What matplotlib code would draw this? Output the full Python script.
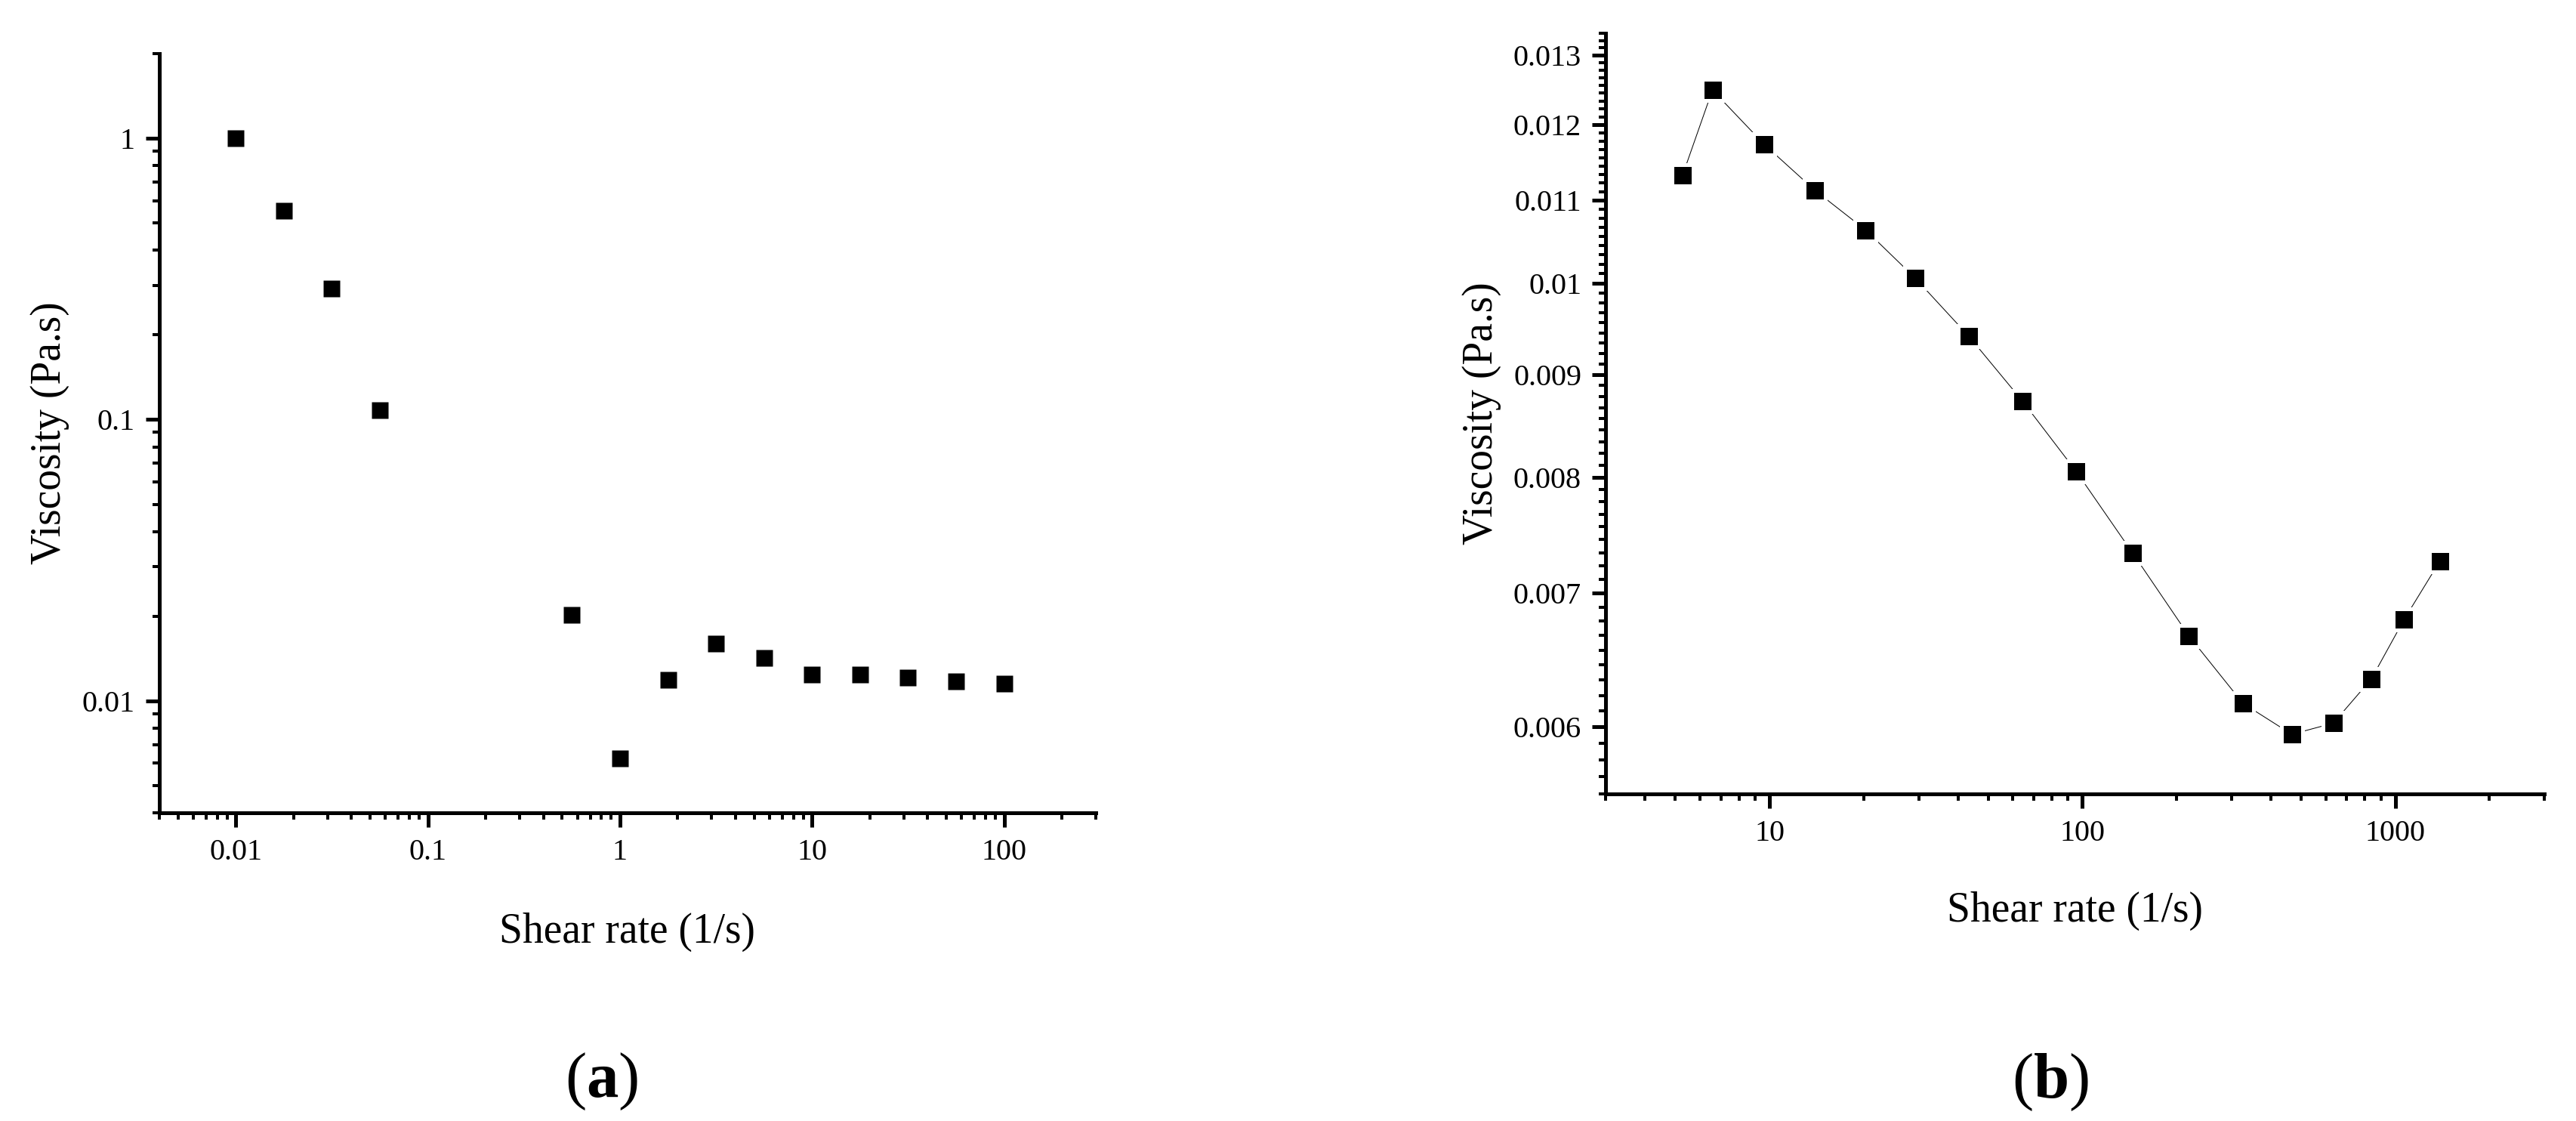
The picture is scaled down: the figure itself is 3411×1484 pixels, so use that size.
import matplotlib
matplotlib.use("Agg")
import matplotlib.pyplot as plt
from matplotlib.ticker import FixedLocator, FixedFormatter, LogLocator, MultipleLocator, NullFormatter

# ---------------- data ----------------
# panel (a)
a_shear = [0.01, 0.0178, 0.0316, 0.0562, 0.562, 1.0, 1.78, 3.16, 5.62, 10.0, 17.8, 31.6, 56.2, 100.0]
a_visc = [1.0, 0.551, 0.292, 0.108, 0.0202, 0.00626, 0.0119, 0.0160, 0.0142, 0.01237, 0.01237, 0.0121, 0.01175, 0.01155]
a_xticks = [0.01, 0.1, 1, 10, 100]
a_xticklabels = ["0.01", "0.1", "1", "10", "100"]
a_yticks = [0.01, 0.1, 1]
a_yticklabels = ["0.01", "0.1", "1"]

# panel (b)
b_shear = [5.27, 6.57, 9.63, 13.95, 20.3, 29.2, 43.3, 64.4, 95.7, 144.8, 219, 326, 467, 634, 838, 1067, 1387]
b_visc = [0.01132, 0.01249, 0.01173, 0.01113, 0.01063, 0.01006, 0.00941, 0.00873, 0.00805, 0.00733,
          0.006664, 0.006166, 0.00595, 0.006027, 0.00634, 0.00679, 0.00726]
b_xticks = [10, 100, 1000]
b_xticklabels = ["10", "100", "1000"]
b_yticks = [0.006, 0.007, 0.008, 0.009, 0.010, 0.011, 0.012, 0.013]
b_yticklabels = ["0.006", "0.007", "0.008", "0.009", "0.01", "0.011", "0.012", "0.013"]

xlabel = "Shear rate (1/s)"
ylabel = "Viscosity (Pa.s)"

# ---------------- style ----------------
plt.rcParams["font.family"] = ["Liberation Serif", "DejaVu Serif"]
plt.rcParams["mathtext.fontset"] = "custom"
plt.rcParams["mathtext.rm"] = "Liberation Serif"
plt.rcParams["mathtext.bf"] = "Liberation Serif:bold"
plt.rcParams["mathtext.it"] = "Liberation Serif:italic"

W, H = 3412, 1484
DPI = 100
PT = 72.0 / DPI  # points per pixel

fig = plt.figure(figsize=(W / DPI, H / DPI), dpi=DPI, facecolor="white")

ax_a = fig.add_axes([211 / W, 1 - 1076 / H, 1240 / W, 1005 / H])
ax_b = fig.add_axes([2126.5 / W, 1 - 1051 / H, 1242.8 / W, 1007 / H])


def style_axes(ax):
    for s in ["top", "right"]:
        ax.spines[s].set_visible(False)
    for s in ["left", "bottom"]:
        ax.spines[s].set_linewidth(5 * PT)
        ax.spines[s].set_capstyle("projecting")
    ax.tick_params(which="major", direction="out", length=18.5 * PT, width=5 * PT,
                   labelsize=29, color="black")
    ax.tick_params(axis="x", which="major", pad=11)
    ax.tick_params(axis="y", which="major", pad=10)
    ax.tick_params(which="minor", direction="out", length=9 * PT, width=4 * PT, color="black")


# ---------------- panel (a) ----------------
ax_a.plot(a_shear, a_visc, linestyle="none", marker="s", markersize=22.5 * PT,
          markerfacecolor="black", markeredgecolor="none", clip_on=False)
ax_a.set_xscale("log")
ax_a.set_yscale("log")
ax_a.set_xlim(0.004, 300)
ax_a.set_ylim(0.004, 2)
ax_a.xaxis.set_major_locator(FixedLocator(a_xticks))
ax_a.xaxis.set_major_formatter(FixedFormatter(a_xticklabels))
ax_a.yaxis.set_major_locator(FixedLocator(a_yticks))
ax_a.yaxis.set_major_formatter(FixedFormatter(a_yticklabels))
ax_a.xaxis.set_minor_locator(LogLocator(base=10, subs=tuple(range(2, 10)), numticks=50))
ax_a.yaxis.set_minor_locator(LogLocator(base=10, subs=tuple(range(2, 10)), numticks=50))
ax_a.xaxis.set_minor_formatter(NullFormatter())
ax_a.yaxis.set_minor_formatter(NullFormatter())
style_axes(ax_a)
ax_a.set_xlabel(xlabel, fontsize=40, va="center", ha="center")
ax_a.xaxis.set_label_coords(0.5, -0.1572)
ax_a.set_ylabel(ylabel, fontsize=40, va="center", ha="center")
ax_a.yaxis.set_label_coords(-0.1169, 0.5)

# ---------------- panel (b) ----------------
gap = 5.0  # px white gap between line and symbol
ax_b.plot(b_shear, b_visc, color="black", linewidth=1.0 * PT, marker="s",
          markersize=(22.5 + gap) * PT, markerfacecolor="black",
          markeredgecolor="white", markeredgewidth=gap * PT, clip_on=False)
ax_b.set_xscale("log")
ax_b.set_yscale("log")
ax_b.set_xlim(3, 3000)
ax_b.set_ylim(0.005 + 5.0 / 9000.0, 0.013 + 3.0 / 9000.0)
ax_b.xaxis.set_major_locator(FixedLocator(b_xticks))
ax_b.xaxis.set_major_formatter(FixedFormatter(b_xticklabels))
ax_b.yaxis.set_major_locator(FixedLocator(b_yticks))
ax_b.yaxis.set_major_formatter(FixedFormatter(b_yticklabels))
ax_b.xaxis.set_minor_locator(LogLocator(base=10, subs=tuple(range(2, 10)), numticks=50))
ax_b.yaxis.set_minor_locator(MultipleLocator(1.0 / 9000.0))
ax_b.xaxis.set_minor_formatter(NullFormatter())
ax_b.yaxis.set_minor_formatter(NullFormatter())
style_axes(ax_b)
ax_b.set_xlabel(xlabel, fontsize=40, va="center", ha="center")
ax_b.xaxis.set_label_coords(0.5, -0.1539)
ax_b.set_ylabel(ylabel, fontsize=40, va="center", ha="center")
ax_b.yaxis.set_label_coords(-0.1326, 0.5)

# ---------------- panel captions ----------------
fig.text(796.7 / W, 1 - 1431.7 / H, r"$\mathrm{(}\mathbf{a}\mathrm{)}$",
         ha="center", va="center", fontsize=61)
fig.text(2714.7 / W, 1 - 1433 / H, r"$\mathrm{(}\mathbf{b}\mathrm{)}$",
         ha="center", va="center", fontsize=61)

fig.savefig("out.png", dpi=DPI, facecolor="white")
